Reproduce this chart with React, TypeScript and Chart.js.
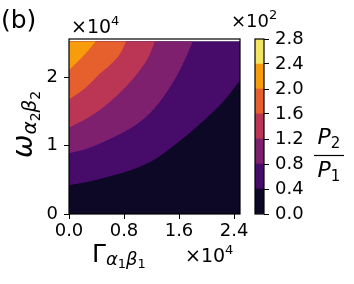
import React, { useEffect, useRef } from "react";
import { Chart, registerables } from "chart.js";

Chart.register(...registerables);

// ---------------- data ----------------
// axis values are in units of 1e4 (offset text "×10^4"), colour levels in units of 1e2
const X_TICKS = [0, 0.8, 1.6, 2.4];
const Y_TICKS = [0, 1, 2];
const X_MAX = 2.487;
const Y_MAX = 2.555;
const DATA_TOP = 2.52;

const LEVELS = [0, 0.4, 0.8, 1.2, 1.6, 2.0, 2.4, 2.8];
const BAND_COLORS = ["#0c0826", "#470b6a", "#7e206e", "#ba3654", "#e5602c", "#f99c0b", "#f2e564"];

// filled-contour boundaries (x = Γ, y = ω)
const BASE_X = [0, 2.487];
const BASE_Y = [0, 0];
const C04_X = [0, 0.25, 0.5, 0.75, 1.0, 1.25, 1.5, 1.75, 2.0, 2.25, 2.487];
const C04_Y = [0.42, 0.465, 0.525, 0.59, 0.68, 0.8, 0.98, 1.18, 1.4, 1.65, 1.95];
const C08_X = [0, 0.25, 0.5, 0.75, 1.0, 1.25, 1.5, 1.65, 1.8];
const C08_Y = [0.886, 0.95, 1.05, 1.17, 1.32, 1.55, 1.9, 2.18, 2.52];
const C12_X = [0, 0.25, 0.5, 0.75, 1.0, 1.15, 1.25];
const C12_Y = [1.26, 1.39, 1.56, 1.78, 2.06, 2.28, 2.52];
const C16_X = [0, 0.25, 0.45, 0.6, 0.75, 0.83];
const C16_Y = [1.67, 1.85, 2.05, 2.18, 2.35, 2.52];
const C20_X = [0, 0.2, 0.39];
const C20_Y = [2.1, 2.3, 2.52];

const FONT = "DejaVu Sans";

type Run = { t: string; size: number; dy?: number; italic?: boolean };

function runs(ctx: CanvasRenderingContext2D, x: number, y: number, parts: Run[]) {
  let cx = x;
  for (const p of parts) {
    ctx.font = `${p.italic ? "italic " : ""}${p.size}px "${FONT}"`;
    ctx.fillText(p.t, cx, y + (p.dy || 0));
    cx += ctx.measureText(p.t).width;
  }
  return cx - x;
}

function measure(ctx: CanvasRenderingContext2D, parts: Run[]) {
  let w = 0;
  for (const p of parts) {
    ctx.font = `${p.italic ? "italic " : ""}${p.size}px "${FONT}"`;
    w += ctx.measureText(p.t).width;
  }
  return w;
}

const frame = {
  id: "frame",
  afterDatasetsDraw(chart: any) {
    const { ctx, chartArea: a } = chart;
    ctx.save();
    ctx.strokeStyle = "#000";
    ctx.lineWidth = 1.2;
    ctx.strokeRect(a.left, a.top, a.right - a.left, a.bottom - a.top);
    ctx.restore();
  },
};

const texts = {
  id: "texts",
  afterDraw(chart: any) {
    const ctx: CanvasRenderingContext2D = chart.ctx;
    ctx.save();
    ctx.fillStyle = "#000";
    ctx.textBaseline = "alphabetic";
    ctx.textAlign = "left";
    // panel tag
    runs(ctx, 1, 28, [{ t: "(b)", size: 25 }]);
    // y offset text
    runs(ctx, 71, 33, [{ t: "×10", size: 19 }, { t: "4", size: 13, dy: -8 }]);
    // x offset text
    runs(ctx, 185, 262, [{ t: "×10", size: 19 }, { t: "4", size: 13, dy: -8 }]);
    // colorbar offset text
    runs(ctx, 231, 27, [{ t: "×10", size: 18 }, { t: "2", size: 13, dy: -8 }]);
    // x label
    runs(ctx, 92, 262, [
      { t: "Γ", size: 25 },
      { t: "α", size: 18, italic: true, dy: 3 },
      { t: "1", size: 13, dy: 6 },
      { t: "β", size: 18, italic: true, dy: 3 },
      { t: "1", size: 13, dy: 6 },
    ]);
    // y label (rotated)
    ctx.save();
    ctx.translate(32, 158);
    ctx.rotate(-Math.PI / 2);
    runs(ctx, 0, 0, [
      { t: "ω", size: 28, italic: true },
      { t: "α", size: 20, italic: true, dy: 4 },
      { t: "2", size: 14, dy: 8 },
      { t: "β", size: 20, italic: true, dy: 4 },
      { t: "2", size: 14, dy: 8 },
    ]);
    ctx.restore();
    // colorbar label P2 / P1
    const num: Run[] = [{ t: "P", size: 22, italic: true }, { t: "2", size: 15, dy: 4 }];
    const den: Run[] = [{ t: "P", size: 22, italic: true }, { t: "1", size: 15, dy: 4 }];
    const cx = 329;
    runs(ctx, cx - measure(ctx, num) / 2, 144, num);
    runs(ctx, cx - measure(ctx, den) / 2, 177, den);
    ctx.strokeStyle = "#000";
    ctx.lineWidth = 1.2;
    ctx.beginPath();
    ctx.moveTo(314, 155.5);
    ctx.lineTo(344, 155.5);
    ctx.stroke();
    ctx.restore();
  },
};

export default function App() {
  const mainRef = useRef<HTMLCanvasElement>(null);
  const cbarRef = useRef<HTMLCanvasElement>(null);

  useEffect(() => {
    document.body.style.margin = "0";
    const boundaries: number[][][] = [
      [BASE_X, BASE_Y],
      [C04_X, C04_Y],
      [C08_X, C08_Y],
      [C12_X, C12_Y],
      [C16_X, C16_Y],
      [C20_X, C20_Y],
    ];
    const n = boundaries.length;
    const tickFont = { family: FONT, size: 18 };

    const main = new Chart(mainRef.current as HTMLCanvasElement, {
      type: "line",
      data: {
        datasets: boundaries.map(([xs, ys], i) => ({
          data: xs.map((x, j) => ({ x, y: ys[j] })),
          backgroundColor: BAND_COLORS[i],
          borderColor: "rgba(0,0,0,0)",
          borderWidth: 0,
          pointRadius: 0,
          pointHoverRadius: 0,
          fill: { value: DATA_TOP },
          cubicInterpolationMode: "monotone",
          order: n - i,
        })),
      } as any,
      options: {
        animation: false,
        responsive: false,
        devicePixelRatio: 1,
        events: [],
        layout: { padding: { left: 0, top: 39, right: 114, bottom: 0 } },
        plugins: { legend: { display: false }, tooltip: { enabled: false } },
        scales: {
          x: {
            type: "linear",
            min: 0,
            max: X_MAX,
            afterBuildTicks: (s: any) => {
              s.ticks = X_TICKS.map((v) => ({ value: v }));
            },
            afterFit: (s: any) => {
              s.height = 70;
            },
            ticks: {
              color: "#000",
              font: tickFont,
              padding: 2,
              maxRotation: 0,
              autoSkip: false,
              callback: (v: any) => Number(v).toFixed(1),
            },
            grid: { drawOnChartArea: false, drawTicks: true, tickLength: 5, color: "#000", lineWidth: 1 },
            border: { display: false },
          },
          y: {
            type: "linear",
            min: 0,
            max: Y_MAX,
            afterBuildTicks: (s: any) => {
              s.ticks = Y_TICKS.map((v) => ({ value: v }));
            },
            afterFit: (s: any) => {
              s.width = 69;
            },
            ticks: {
              color: "#000",
              font: tickFont,
              padding: 6,
              autoSkip: false,
              callback: (v: any) => String(v),
            },
            grid: { drawOnChartArea: false, drawTicks: true, tickLength: 5, color: "#000", lineWidth: 1 },
            border: { display: false },
          },
        },
      } as any,
      plugins: [frame, texts],
    });

    const cbar = new Chart(cbarRef.current as HTMLCanvasElement, {
      type: "bar",
      data: {
        labels: [""],
        datasets: BAND_COLORS.map((c, i) => ({
          data: [LEVELS[i + 1] - LEVELS[i]],
          backgroundColor: c,
          borderWidth: 0,
          barPercentage: 1,
          categoryPercentage: 1,
        })),
      },
      options: {
        animation: false,
        responsive: false,
        devicePixelRatio: 1,
        events: [],
        layout: { padding: { left: 255, top: 39, right: 0, bottom: 70 } },
        plugins: { legend: { display: false }, tooltip: { enabled: false } },
        scales: {
          x: { stacked: true, display: false },
          y: {
            stacked: true,
            position: "right",
            min: LEVELS[0],
            max: LEVELS[LEVELS.length - 1],
            afterBuildTicks: (s: any) => {
              s.ticks = LEVELS.map((v) => ({ value: v }));
            },
            afterFit: (s: any) => {
              s.width = 90;
            },
            ticks: {
              color: "#000",
              font: tickFont,
              padding: 6,
              autoSkip: false,
              callback: (v: any) => Number(v).toFixed(1),
            },
            grid: { drawOnChartArea: false, drawTicks: true, tickLength: 5, color: "#000", lineWidth: 1 },
            border: { display: false },
          },
        },
      } as any,
      plugins: [frame],
    });

    return () => {
      main.destroy();
      cbar.destroy();
    };
  }, []);

  return (
    <div style={{ position: "fixed", left: 0, top: 0, width: 354, height: 284, background: "#fff" }}>
      <canvas ref={mainRef} width={354} height={284} style={{ position: "absolute", left: 0, top: 0 }} />
      <canvas ref={cbarRef} width={354} height={284} style={{ position: "absolute", left: 0, top: 0 }} />
    </div>
  );
}
